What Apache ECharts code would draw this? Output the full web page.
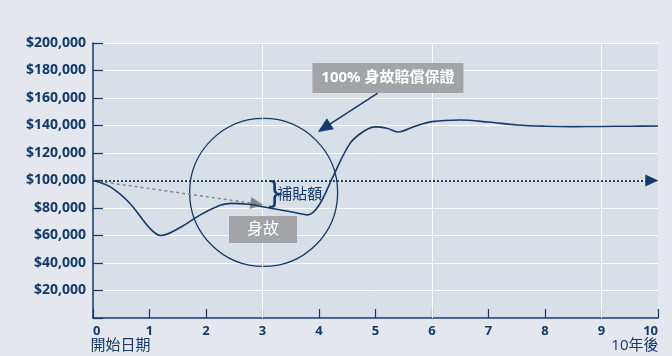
<!DOCTYPE html>
<html>
<head>
<meta charset="utf-8">
<script src="https://cdn.jsdelivr.net/npm/echarts@6/dist/echarts.min.js"></script>
<style>
html,body{margin:0;padding:0;background:#e4e7ed;}
#c{width:672px;height:356px;}
</style>
</head>
<body>
<div id="c"></div>
<script>
// ---- data ----
const years  = [0, 0.3, 0.65, 1.0, 1.2, 1.55, 1.9, 2.25, 2.45, 2.75, 3.1, 3.5, 3.8, 4.0, 4.25, 4.55, 4.8, 5.0, 5.2, 5.4, 5.7, 6.0, 6.5, 7.0, 7.5, 8.0, 8.5, 9.0, 9.5, 10];
const values = [100000, 95500, 83500, 65500, 60000, 66000, 75000, 82000, 83400, 82700, 80200, 77300, 75000, 82000, 103000, 127000, 136000, 139000, 138000, 135300, 139500, 142800, 144000, 142500, 140400, 139500, 139200, 139300, 139500, 139600];
const guaranteeLevel = 100000;
const gridYears = [3, 6, 9];
const xStartLabel = '開始日期';
const xEndLabel = '10年後';
const boxGuarantee = '100% 身故賠償保證';
const boxDeath = '身故';
const braceLabel = '補貼額';

const NAVY = '#123a6b';
const GREY = '#a2a4a8';
const FONT = "'Open Sans', 'Noto Sans CJK TC', sans-serif";

const chart = echarts.init(document.getElementById('c'), null, {renderer: 'canvas'});
const option = {
  animation: false,
  backgroundColor: '#e4e7ed',
  textStyle: {fontFamily: FONT},
  grid: {left: 93, top: 43, width: 565, height: 275, show: true, backgroundColor: '#d9dfe7', borderWidth: 0, containLabel: false},
  xAxis: {
    type: 'value', min: 0, max: 10, interval: 1,
    axisLine: {show: true, lineStyle: {color: NAVY, width: 1.5}},
    axisTick: {show: true, inside: true, length: 9, lineStyle: {color: NAVY, width: 1.2}},
    splitLine: {show: false},
    axisLabel: {
      margin: 6, showMinLabel: true, showMaxLabel: true, hideOverlap: false,
      alignMinLabel: 'left', alignMaxLabel: 'right',
      fontFamily: FONT, fontSize: 13, fontWeight: 'bold', color: NAVY, lineHeight: 15
    }
  },
  yAxis: {
    type: 'value', min: 0, max: 200000, interval: 20000,
    axisLine: {show: true, lineStyle: {color: NAVY, width: 1.5}},
    axisTick: {show: true, inside: true, length: 10, lineStyle: {color: NAVY, width: 1.2}},
    splitLine: {show: true, lineStyle: {color: '#ffffff', width: 1}},
    axisLabel: {
      margin: 7, fontFamily: FONT, fontSize: 14, fontWeight: 'bold', color: NAVY,
      formatter: v => v === 0 ? '' : '$' + v.toLocaleString('en-US')
    }
  },
  series: [
    { // vertical white grid lines
      type: 'line', data: [], silent: true, z: 1,
      markLine: {silent: true, symbol: ['none', 'none'], label: {show: false},
        lineStyle: {color: '#ffffff', width: 1, type: 'solid'},
        data: gridYears.map(y => ({xAxis: y}))}
    },
    { // dotted guarantee line
      type: 'line', data: [], silent: true, z: 3,
      markLine: {silent: true, symbol: ['none', 'triangle'], symbolSize: [12, 13], label: {show: false},
        lineStyle: {color: NAVY, width: 2, type: [2, 2], opacity: 1},
        data: [[{coord: [0, guaranteeLevel]}, {coord: [9.89, guaranteeLevel]}]]}
    },
    { // grey dashed arrow
      type: 'line', data: [], silent: true, z: 3,
      markLine: {silent: true, symbol: ['none', 'triangle'], symbolSize: [12, 13], label: {show: false},
        lineStyle: {color: '#85888d', width: 1.5, type: [3, 3], opacity: 1},
        itemStyle: {color: '#85888d'},
        data: [[{coord: [0, guaranteeLevel]}, {coord: [2.9, 83000]}]]}
    },
    { // navy arrow from box
      type: 'line', data: [], silent: true, z: 3,
      markLine: {silent: true, symbol: ['none', 'triangle'], symbolSize: [13, 15], label: {show: false},
        lineStyle: {color: NAVY, width: 1.5, type: 'solid', opacity: 1},
        data: [[{coord: [5.04, 163500]}, {coord: [4.09, 138300]}]]}
    },
    { // circle
      type: 'scatter', silent: true, z: 4,
      symbol: 'circle', symbolSize: 148,
      itemStyle: {color: 'rgba(0,0,0,0)', borderColor: NAVY, borderWidth: 1.3, opacity: 1},
      data: [[3.02, 91300]]
    },
    { // main line
      type: 'line', z: 5, silent: true,
      data: years.map((x, i) => [x, values[i]]),
      smooth: 0.35, showSymbol: false, symbol: 'none',
      lineStyle: {color: NAVY, width: 1.6},
      markPoint: {
        silent: true,
        data: [
          {coord: [5.22, 174500], symbol: 'rect', symbolSize: [151, 30], itemStyle: {color: GREY},
            label: {show: true, position: 'inside', formatter: boxGuarantee, color: '#ffffff', fontFamily: FONT, fontSize: 15, fontWeight: 'bold'}},
          {coord: [3.01, 64400], symbol: 'rect', symbolSize: [68, 27], itemStyle: {color: GREY},
            label: {show: true, position: 'inside', formatter: boxDeath, color: '#ffffff', fontFamily: FONT, fontSize: 16}},
          {coord: [3.04, 89600], symbol: 'rect', symbolSize: [1, 1], itemStyle: {color: 'rgba(0,0,0,0)'},
            label: {show: true, position: 'right', distance: 0, formatter: '}', fontFamily: 'DejaVu Sans', fontSize: 30, color: NAVY}},
          {coord: [3.25, 89600], symbol: 'rect', symbolSize: [1, 1], itemStyle: {color: 'rgba(0,0,0,0)'},
            label: {show: true, position: 'right', distance: 0, formatter: braceLabel, fontFamily: FONT, fontSize: 15, color: NAVY}},
          {coord: [0, 0], symbol: 'rect', symbolSize: [1, 1], itemStyle: {color: 'rgba(0,0,0,0)'},
            label: {show: true, position: [-2, 28], align: 'left', verticalAlign: 'middle', formatter: xStartLabel, fontFamily: FONT, fontSize: 15, color: NAVY}},
          {coord: [10, 0], symbol: 'rect', symbolSize: [1, 1], itemStyle: {color: 'rgba(0,0,0,0)'},
            label: {show: true, position: [1, 28], align: 'right', verticalAlign: 'middle', formatter: xEndLabel, fontFamily: FONT, fontSize: 15, color: NAVY}}
        ]
      }
    }
  ]
};
chart.setOption(option);
</script>
</body>
</html>
